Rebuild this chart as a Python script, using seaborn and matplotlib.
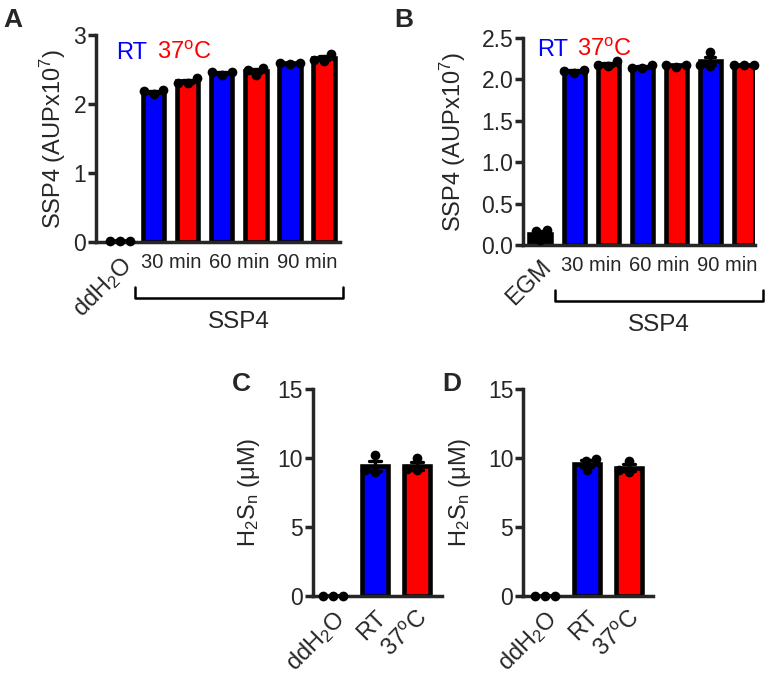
import matplotlib
matplotlib.use("Agg")
import matplotlib.pyplot as plt
import matplotlib.transforms as mtransforms
import numpy as np
import pandas as pd
import seaborn as sns

sns.set_style("ticks")
plt.rcParams['font.family'] = ['Liberation Sans', 'DejaVu Sans']
plt.rcParams['mathtext.fontset'] = 'custom'
plt.rcParams['mathtext.rm'] = 'Liberation Sans'
plt.rcParams['mathtext.it'] = 'Liberation Sans:italic'
plt.rcParams['mathtext.bf'] = 'Liberation Sans:bold'
plt.rcParams['mathtext.default'] = 'regular'

BLUE = '#0000FF'
RED = '#FF0000'

# ---- data (3 replicates per bar) ----
groups_a = ['ddH2O', 'RT 30', '37 30', 'RT 60', '37 60', 'RT 90', '37 90']
reps_a = [
    [0.01, 0.02, 0.02],
    [2.15, 2.20, 2.19],
    [2.37, 2.31, 2.30],
    [2.46, 2.42, 2.46],
    [2.52, 2.42, 2.50],
    [2.60, 2.58, 2.60],
    [2.73, 2.63, 2.64],
]

groups_b = ['EGM', 'RT 30', '37 30', 'RT 60', '37 60', 'RT 90', '37 90']
reps_b = [
    [0.18, 0.06, 0.17],
    [2.12, 2.08, 2.10],
    [2.22, 2.16, 2.17],
    [2.18, 2.14, 2.14],
    [2.18, 2.15, 2.18],
    [2.33, 2.16, 2.18],
    [2.18, 2.17, 2.18],
]

groups_cd = ['ddH2O', 'RT', '37C']
reps_c = [
    [0.0, 0.0, 0.0],
    [10.2, 9.0, 9.1],
    [10.0, 9.1, 9.2],
]
reps_d = [
    [0.0, 0.0, 0.0],
    [9.9, 9.1, 9.8],
    [9.8, 9.0, 9.1],
]

time_labels = ['30 min', '60 min', '90 min']
cd_labels = ['ddH$_2$O', 'RT', '37$^{o}$C']

colors7 = ['black', BLUE, RED, BLUE, RED, BLUE, RED]
colors3 = ['black', BLUE, RED]


def long_df(groups, reps):
    rows = []
    for g, vals in zip(groups, reps):
        for v in vals:
            rows.append({'group': g, 'value': v})
    return pd.DataFrame(rows)


def bar_panel(ax, groups, reps, colors, width):
    df = long_df(groups, reps)
    sns.barplot(data=df, x='group', y='value', hue='group', order=groups,
                hue_order=groups, palette=colors, legend=False, ax=ax,
                saturation=1, errorbar='se', capsize=0.3, width=width,
                edgecolor='black', linewidth=3.3,
                err_kws={'color': 'black', 'linewidth': 2.4})
    sns.swarmplot(data=df, x='group', y='value', order=groups, color='black',
                  size=7, ax=ax, zorder=5)
    for c in ax.collections:
        c.set_clip_on(False)
    ax.set_xlabel('')
    for s in ['top', 'right']:
        ax.spines[s].set_visible(False)
    for s in ['left', 'bottom']:
        ax.spines[s].set_linewidth(2.5)
    ax.tick_params(axis='y', direction='out', length=6, width=2.5,
                   labelsize=16.5, pad=1)
    ax.tick_params(axis='x', length=0, labelsize=14.5, pad=8)


fig = plt.figure(figsize=(7.65, 6.77), dpi=100)

ax_a = fig.add_axes([0.1255, 0.6425, 0.319, 0.3058])
ax_b = fig.add_axes([0.6837, 0.638, 0.3033, 0.3058])
ax_c = fig.add_axes([0.409, 0.1196, 0.169, 0.3058])
ax_d = fig.add_axes([0.6837, 0.1196, 0.17, 0.3058])

# ---- panel A ----
bar_panel(ax_a, groups_a, reps_a, colors7, 0.62)
ax_a.set_ylim(0, 3)
ax_a.set_yticks([0, 1, 2, 3])
ax_a.set_xlim(-0.7, 6.47)
ax_a.set_ylabel('SSP4 (AUPx10$^7$)', fontsize=17)
ax_a.yaxis.set_label_coords(-0.115, 0.5)

# ---- panel B ----
bar_panel(ax_b, groups_b, reps_b, colors7, 0.62)
ax_b.set_ylim(0, 2.5)
ax_b.set_yticks([0, 0.5, 1.0, 1.5, 2.0, 2.5])
ax_b.set_yticklabels(['0.0', '0.5', '1.0', '1.5', '2.0', '2.5'])
ax_b.set_xlim(-0.5, 6.32)
ax_b.set_ylabel('SSP4 (AUPx10$^7$)', fontsize=17)
ax_b.yaxis.set_label_coords(-0.237, 0.5)

for ax, first in [(ax_a, 'ddH$_2$O'), (ax_b, 'EGM')]:
    ax.set_xticks([0, 1.5, 3.5, 5.5])
    ax.set_xticklabels([first] + time_labels)
    lab = ax.get_xticklabels()[0]
    lab.set_rotation(45)
    lab.set_ha('right')
    lab.set_va('top')
    lab.set_rotation_mode('anchor')
    lab.set_fontsize(17)
    # bracket under the SSP4 groups
    tr = mtransforms.blended_transform_factory(ax.transData, ax.transAxes)
    ax.plot([0.45, 0.45, 6.55, 6.55], [-0.215, -0.27, -0.27, -0.215],
            color='black', lw=1.8, transform=tr, clip_on=False)
    ax.text(3.5, -0.335, 'SSP4', transform=tr, ha='center', va='top',
            fontsize=17.5)

ax_a.text(0.082, 0.913, 'RT', color=BLUE, transform=ax_a.transAxes,
          ha='left', va='center', fontsize=17)
ax_a.text(0.25, 0.913, '37$^{o}$C', color=RED, transform=ax_a.transAxes,
          ha='left', va='center', fontsize=17)
ax_b.text(0.06, 0.942, 'RT', color=BLUE, transform=ax_b.transAxes,
          ha='left', va='center', fontsize=17)
ax_b.text(0.233, 0.942, '37$^{o}$C', color=RED, transform=ax_b.transAxes,
          ha='left', va='center', fontsize=17)

# ---- panels C and D ----
for ax, reps, xl, lx in [(ax_c, reps_c, (-0.48, 2.6), -0.395),
                         (ax_d, reps_d, (-0.52, 2.57), -0.385)]:
    bar_panel(ax, groups_cd, reps, colors3, 0.6)
    ax.set_ylim(0, 15)
    ax.set_yticks([0, 5, 10, 15])
    ax.set_xlim(*xl)
    ax.set_ylabel('H$_2$S$_n$ (\u03bcM)', fontsize=17)
    ax.yaxis.set_label_coords(lx, 0.5)
    ax.set_xticks([0, 1, 2])
    ax.set_xticklabels(cd_labels, rotation=45, ha='right',
                       rotation_mode='anchor', fontsize=17)

# ---- panel letters ----
for x, y, s in [(0.004, 0.988, 'A'), (0.516, 0.988, 'B'),
                (0.303, 0.45, 'C'), (0.578, 0.45, 'D')]:
    fig.text(x, y, s, fontsize=19, fontweight='bold', ha='left', va='top')

fig.savefig('out.png', dpi=100)
